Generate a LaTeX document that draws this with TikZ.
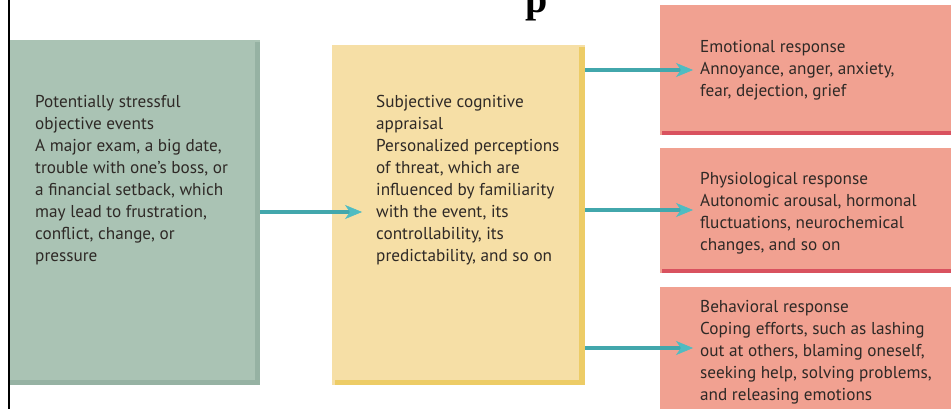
\documentclass[tikz,border=0pt]{standalone}
\usepackage{fontspec}
\setmainfont{PT Sans}
\newfontfamily\titlefont{Liberation Serif}
\usetikzlibrary{arrows.meta}
\definecolor{gfill}{HTML}{AAC3B4}
\definecolor{gdark}{HTML}{96B2A3}
\definecolor{yfill}{HTML}{F6DFA6}
\definecolor{ydark}{HTML}{EDCC66}
\definecolor{rfill}{HTML}{F1A191}
\definecolor{rdark}{HTML}{D9525F}
\definecolor{teal}{HTML}{42A7AC}
\definecolor{tealtip}{HTML}{4FBCC2}
\definecolor{txtcol}{HTML}{2E2926}
\tikzset{
  boxnode/.style={anchor=north west, inner sep=0pt, outer sep=0pt},
  txt/.style={anchor=north west, inner sep=0pt, align=left, text=txtcol,
    font=\fontsize{17.2}{22}\selectfont},
  arr/.style={draw=teal, line width=3.4pt,
    -{Stealth[length=17pt,width=14pt,inset=5pt,color=tealtip,fill=tealtip,line width=0.5pt]}},
}
\begin{document}
\begin{tikzpicture}[x=1pt,y=-1pt]
\useasboundingbox (0,0) rectangle (951,409);
\clip (0,0) rectangle (951,409);
\fill[white] (0,0) rectangle (951,409);

% left border line
\draw[line width=2.4pt, black] (9,0) -- (9,409);

% title fragment
\node[inner sep=0pt, anchor=base, font=\titlefont\bfseries\fontsize{40}{40}\selectfont] (title) at (537,13) {p};

% green box
\node[boxnode, fill=gfill, minimum width=250pt, minimum height=345pt] (g) at (10,40) {};
\fill[gdark] (g.south west) ++(0,-5) rectangle (g.south east);
\fill[gdark] (g.north east) ++(-5,2) rectangle (g.south east);

% yellow box
\node[boxnode, fill=yfill, minimum width=253pt, minimum height=340pt] (y) at (332,45) {};
\fill[ydark] (y.south west) ++(3,-5) rectangle (y.south east);
\fill[ydark] (y.north east) ++(-6,2) rectangle (y.south east);

% red boxes
\node[boxnode, fill=rfill, minimum width=300pt, minimum height=130pt] (r1) at (660,5) {};
\fill[rdark] (r1.south west) ++(2,-4) rectangle (r1.south east);
\node[boxnode, fill=rfill, minimum width=300pt, minimum height=125pt] (r2) at (660,148) {};
\fill[rdark] (r2.south west) ++(2,-4) rectangle (r2.south east);
\node[boxnode, fill=rfill, minimum width=300pt, minimum height=140pt] (r3) at (660,287) {};

% texts
\node[txt] (gt) at (35,95) {Potentially stressful\\objective events\\A major exam, a big date,\\trouble with one’s boss, or\\a financial setback, which\\may lead to frustration,\\conflict, change, or\\pressure};
\node[txt] (yt) at (376,95) {Subjective cognitive\\appraisal\\Personalized perceptions\\of threat, which are\\influenced by familiarity\\with the event, its\\controllability, its\\predictability, and so on};
\node[txt] (r1t) at (700,40) {Emotional response\\Annoyance, anger, anxiety,\\fear, dejection, grief};
\node[txt] (r2t) at (700,172) {Physiological response\\Autonomic arousal, hormonal\\fluctuations, neurochemical\\changes, and so on};
\node[txt] (r3t) at (700,300) {Behavioral response\\Coping efforts, such as lashing\\out at others, blaming oneself,\\seeking help, solving problems,\\and releasing emotions};

% arrows
\coordinate (t1) at (362,212);
\coordinate (t2) at (693,70);
\coordinate (t3) at (693,210);
\coordinate (t4) at (693,348);
\draw[arr] (g.east |- t1) -- (t1);
\draw[arr] (y.east |- t2) -- (t2);
\draw[arr] (y.east |- t3) -- (t3);
\draw[arr] (y.east |- t4) -- (t4);
\end{tikzpicture}
\end{document}
